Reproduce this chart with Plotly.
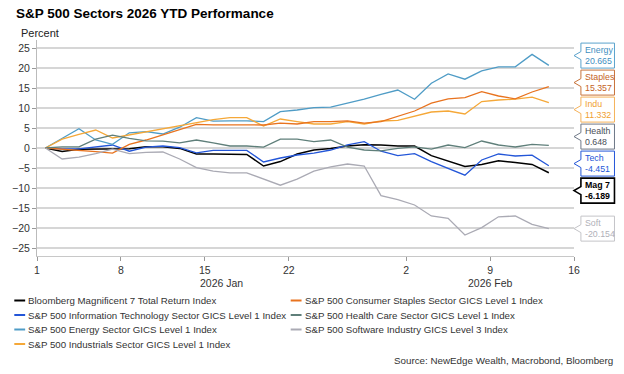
import numpy as np
import pandas as pd
import plotly.graph_objects as go

# ---------------- data ----------------
start_date = "2026-01-01"
end_date = "2026-02-12"
axis_end_date = "2026-02-16"
tick_dates = ["2026-01-01", "2026-01-08", "2026-01-15", "2026-01-22",
              "2026-02-02", "2026-02-09", "2026-02-16"]
tick_labels = ["1", "8", "15", "22", "2", "9", "16"]
month_starts = ["2026-01-01", "2026-02-01"]
month_labels = ["2026 Jan", "2026 Feb"]

mag7 = [0, -0.9, -0.3, -0.3, -0.3, -0.2, 0.3, 0.3, -0.1, -1.5, -1.5, -1.6, -1.6, -4.5, -3.4,
        -1.5, -0.5, -0.1, 0.5, 0.8, 0.75, 0.5, 0.5, -1.9, -3.25, -4.6, -4.1, -3.2, -3.6, -4.1, -6.189]
tech = [0, -0.2, -0.2, 0.3, 0.75, -0.8, 0.2, 0.5, 0.1, -1.2, -0.6, -0.6, -0.6, -3.5, -2.5,
        -1.75, -1.3, -0.5, 0.8, 1.6, -0.8, -1.9, -1.4, -3.4, -5.1, -6.8, -3.0, -1.5, -2.0, -1.8, -4.451]
energy = [0, 2.4, 4.8, 2.0, 0.9, 3.8, 4.1, 3.5, 5.2, 7.6, 6.7, 6.8, 6.8, 6.6, 9.1,
          9.5, 10.1, 10.2, 11.2, 12.2, 13.4, 14.5, 12.2, 16.2, 18.5, 17.2, 19.3, 20.3, 20.3, 23.4, 20.665]
indu = [0, 2.2, 3.4, 4.5, 2.5, 3.25, 4.1, 4.7, 5.5, 6.3, 7.1, 7.6, 7.6, 5.5, 7.25,
        6.6, 6.0, 6.0, 6.6, 6.0, 6.75, 6.9, 8.0, 9.0, 9.25, 8.5, 11.6, 12.0, 12.2, 12.7, 11.332]
staples = [0, -0.3, -0.5, -0.9, -1.3, 0.9, 2.0, 3.25, 4.5, 5.9, 5.8, 5.75, 5.75, 5.75, 6.2,
           6.0, 6.6, 6.6, 6.8, 6.2, 6.6, 7.9, 9.25, 11.2, 12.3, 12.6, 14.1, 13.0, 12.3, 14.0, 15.357]
health = [0, 0.3, 0.3, 2.2, 3.2, 2.4, 1.8, 1.7, 1.3, 2.0, 1.3, 0.5, 0.5, 0.2, 2.2,
          2.2, 1.6, 2.0, 0.2, -0.5, -0.7, -0.1, 0.3, -0.3, 0.75, 0.1, 1.75, 0.75, 0.25, 0.9, 0.648]
soft = [0, -2.75, -2.3, -1.4, -0.3, -1.4, -1.1, -1.0, -2.75, -4.9, -5.8, -6.2, -6.2, -7.75, -9.3,
        -7.8, -5.8, -4.7, -4.0, -4.5, -11.9, -12.9, -14.25, -17.0, -17.6, -21.75, -19.9, -17.2, -17.0, -19.1, -20.154]

legend_names = ["Bloomberg Magnificent 7 Total Return Index",
                "S&P 500 Information Technology Sector GICS Level 1 Index",
                "S&P 500 Energy Sector GICS Level 1 Index",
                "S&P 500 Industrials Sector GICS Level 1 Index",
                "S&P 500 Consumer Staples Sector GICS Level 1 Index",
                "S&P 500 Health Care Sector GICS Level 1 Index",
                "S&P 500 Software Industry GICS Level 3 Index"]
short_names = ["Mag 7", "Tech", "Energy", "Indu", "Staples", "Health", "Soft"]
y_ticks = [25, 20, 15, 10, 5, 0, -5, -10, -15, -20, -25]

title_text = "S&P 500 Sectors 2026 YTD Performance"
y_title = "Percent"
source_text = "Source: NewEdge Wealth, Macrobond, Bloomberg"

# ---------------- styles ----------------
series = [mag7, tech, energy, indu, staples, health, soft]
colors = ["#000000", "#2356d8", "#4f9cc6", "#f5a838", "#e8731f", "#5f7f7a", "#aaaab4"]
label_text_colors = ["#000000", "#2356d8", "#3f8fbf", "#f0a030", "#c4621e", "#4a4f58", "#b0b0b8"]
label_border_colors = ["#000000", "#2356d8", "#5aa2cc", "#f5b25a", "#c8733a", "#6e7887", "#c4c4c8"]
widths = [1.5, 1.3, 1.3, 1.3, 1.3, 1.3, 1.3]
FONT = "Liberation Sans, Arial, sans-serif"

W, H = 624, 374
L, R, T, B = 30, 50, 40, 118
PW, PH = W - L - R, H - T - B
YMIN, YMAX = -27, 27


def px_x(p):
    return (p - L) / PW


def px_y(p):
    return (T + PH - p) / PH


def val_y(v):
    return (v - YMIN) / (YMAX - YMIN)


def bidx(d):
    return int(np.busday_count(start_date, d))


dates = pd.bdate_range(start_date, end_date)
xpos = [bidx(d.strftime("%Y-%m-%d")) + 0.5 for d in dates]
x_end = bidx(axis_end_date)

fig = go.Figure()
for s, c, w, nm in zip(series, colors, widths, legend_names):
    fig.add_trace(go.Scatter(x=xpos, y=s, mode="lines", name=nm,
                             line=dict(color=c, width=w), showlegend=False, hoverinfo="skip"))

fig.update_layout(
    width=W, height=H,
    margin=dict(l=L, r=R, t=T, b=B),
    paper_bgcolor="white", plot_bgcolor="white",
    font=dict(family=FONT, size=10, color="#333333"),
    showlegend=False,
    xaxis=dict(range=[0, x_end], tickvals=[bidx(d) for d in tick_dates], ticktext=tick_labels,
               showgrid=False, zeroline=False, showline=True, linecolor="#c8c8c8", linewidth=1,
               ticks="outside", ticklen=4, tickcolor="#999999",
               tickfont=dict(size=10.5, color="#333333", family=FONT)),
    yaxis=dict(range=[YMIN, YMAX], tickvals=y_ticks, showgrid=True, gridcolor="#d6d6d6",
               gridwidth=1.5, zeroline=False, showline=True, linecolor="#bbbbbb", linewidth=1,
               ticks="outside", ticklen=4, tickcolor="#999999",
               tickfont=dict(size=10.5, color="#333333", family=FONT)),
)

ann = []
shapes = []
# title & axis title
ann.append(dict(text="<b>" + title_text + "</b>", x=px_x(7), y=px_y(14), xref="paper", yref="paper",
                xanchor="left", yanchor="middle", showarrow=False,
                font=dict(size=13.5, color="#000000", family=FONT)))
ann.append(dict(text=y_title, x=px_x(12), y=px_y(33), xref="paper", yref="paper",
                xanchor="left", yanchor="middle", showarrow=False,
                font=dict(size=11, color="#222222", family=FONT)))
# month labels
mb = [bidx(m) for m in month_starts] + [x_end]
for k, lab in enumerate(month_labels):
    ann.append(dict(text=lab, x=(mb[k] + mb[k + 1]) / 2, xref="x", y=px_y(283), yref="paper",
                    xanchor="center", yanchor="middle", showarrow=False,
                    font=dict(size=10.5, color="#333333", family=FONT)))

# manual legend (two columns)
legend_rows = [300.5, 315, 329.5, 344]
legend_layout = [(0, 0), (0, 1), (0, 2), (0, 3), (1, 0), (1, 1), (1, 2)]
col_x = [7, 287]
for k, (col, row) in enumerate(legend_layout):
    yy = px_y(legend_rows[row])
    shapes.append(dict(type="line", xref="paper", yref="paper",
                       x0=px_x(col_x[col]), x1=px_x(col_x[col] + 11), y0=yy, y1=yy,
                       line=dict(color=colors[k], width=2)))
    ann.append(dict(text=legend_names[k], x=px_x(col_x[col] + 12), y=yy, xref="paper", yref="paper",
                    xanchor="left", yanchor="middle", showarrow=False,
                    font=dict(size=9.7, color="#333333", family=FONT)))

ann.append(dict(text=source_text, x=px_x(616), y=px_y(360), xref="paper", yref="paper",
                xanchor="right", yanchor="middle", showarrow=False,
                font=dict(size=9.8, color="#333333", family=FONT)))


# end-value callout labels, spread to avoid overlap
def spread(vals, gap):
    order = sorted(range(len(vals)), key=lambda k: -vals[k])
    clusters = [[k] for k in order]
    centers = [vals[k] for k in order]
    changed = True
    while changed:
        changed = False
        for j in range(len(clusters) - 1):
            n, m = len(clusters[j]), len(clusters[j + 1])
            bottom = centers[j] - (n - 1) / 2 * gap
            top = centers[j + 1] + (m - 1) / 2 * gap
            if bottom - top < gap:
                merged = clusters[j] + clusters[j + 1]
                c = sum(vals[q] for q in merged) / len(merged)
                clusters[j:j + 2] = [merged]
                centers[j:j + 2] = [c]
                changed = True
                break
    pos = {}
    for cl, c in zip(clusters, centers):
        n = len(cl)
        for r, k in enumerate(cl):
            pos[k] = c + ((n - 1) / 2 - r) * gap
    return pos


last_vals = [s[-1] for s in series]
pos = spread(last_vals, 6.75)
half_h = 12.5 * (YMAX - YMIN) / PH
notch = 4 * (YMAX - YMIN) / PH
bx0, bx1, tip = px_x(581), px_x(615), px_x(574)
for k in range(len(series)):
    yc = pos[k]
    top, bot = val_y(yc + half_h), val_y(yc - half_h)
    n_up, n_dn, mid = val_y(yc + notch), val_y(yc - notch), val_y(yc)
    path = (f"M {bx0},{top} L {bx1},{top} L {bx1},{bot} L {bx0},{bot} "
            f"L {bx0},{n_dn} L {tip},{mid} L {bx0},{n_up} Z")
    shapes.append(dict(type="path", path=path, xref="paper", yref="paper",
                       fillcolor="white", line=dict(color=label_border_colors[k],
                                                    width=1.6 if k == 0 else 1)))
    txt = f"{short_names[k]}<br>{last_vals[k]:.3f}"
    if k == 0:
        txt = "<b>" + txt + "</b>"
    ann.append(dict(text=txt, x=px_x(583.5), y=mid, xref="paper", yref="paper",
                    xanchor="left", yanchor="middle", align="left", showarrow=False,
                    font=dict(size=8.8, color=label_text_colors[k], family=FONT)))

fig.update_layout(annotations=ann, shapes=shapes)
fig.write_html("out.html", config={"displayModeBar": False},
               post_script="document.body.style.margin='0px';document.body.style.overflow='hidden';")
